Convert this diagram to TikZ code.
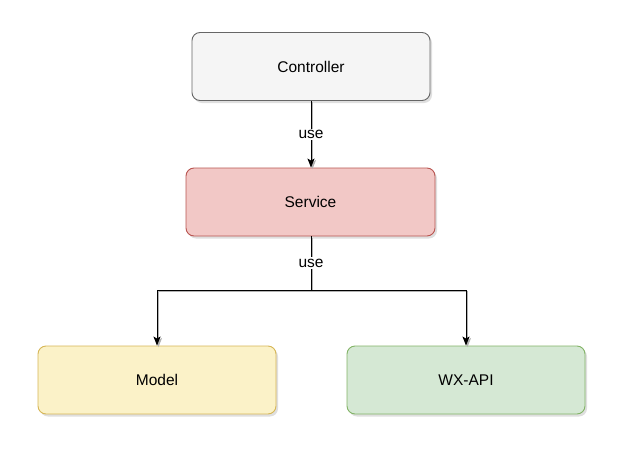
\documentclass[tikz,border=0pt]{standalone}
\usepackage{fontspec}
\setmainfont{Liberation Sans}
\usetikzlibrary{shadows, arrows.meta}
\definecolor{ctrlfill}{HTML}{F5F5F5}
\definecolor{ctrldraw}{HTML}{666666}
\definecolor{svcfill}{HTML}{F2C8C6}
\definecolor{svcdraw}{HTML}{B85450}
\definecolor{mdlfill}{HTML}{FBF2C8}
\definecolor{mdldraw}{HTML}{D6B656}
\definecolor{apifill}{HTML}{D5E8D4}
\definecolor{apidraw}{HTML}{82B366}

\begin{document}
\begin{tikzpicture}[x=1pt,y=-1pt,
  box/.style={draw,rounded corners=8pt,line width=0.9pt,minimum width=238pt,minimum height=68pt,
    font=\fontsize{15.5}{18}\selectfont,
    drop shadow={shadow xshift=2pt,shadow yshift=-2.5pt,opacity=0.25}},
  link/.style={line width=1pt,
    preaction={draw=black!30,line width=1pt,transform canvas={shift={(1.5pt,-1.5pt)}}}},
  arr/.style={-{Stealth[length=9pt,width=7pt,inset=2pt]}},
  lbl/.style={fill=white,inner sep=1.5pt,font=\fontsize{15.5}{18}\selectfont}]
  \useasboundingbox (0,0) rectangle (624,461);
  \path (311,66.5) node[box,fill=ctrlfill,draw=ctrldraw] (ctrl) {Controller}
  (310.5,202) node[box,fill=svcfill,draw=svcdraw,minimum width=249pt] (svc) {Service}
  (157,380) node[box,fill=mdlfill,draw=mdldraw] (mdl) {Model}
  (466,380) node[box,fill=apifill,draw=apidraw] (api) {WX-API};
  \coordinate (fork) at (311,290);
  \draw[link,arr] (ctrl.south -| fork) -- node[lbl] {use} (svc.north -| fork);
  \draw[link,arr] (svc.south -| fork) -- (fork) -| (mdl.north);
  \draw[link,arr] (fork) -| (api.north);
  \path (svc.south -| fork) -- node[lbl] (use2) {use} (fork);
\end{tikzpicture}
\end{document}
